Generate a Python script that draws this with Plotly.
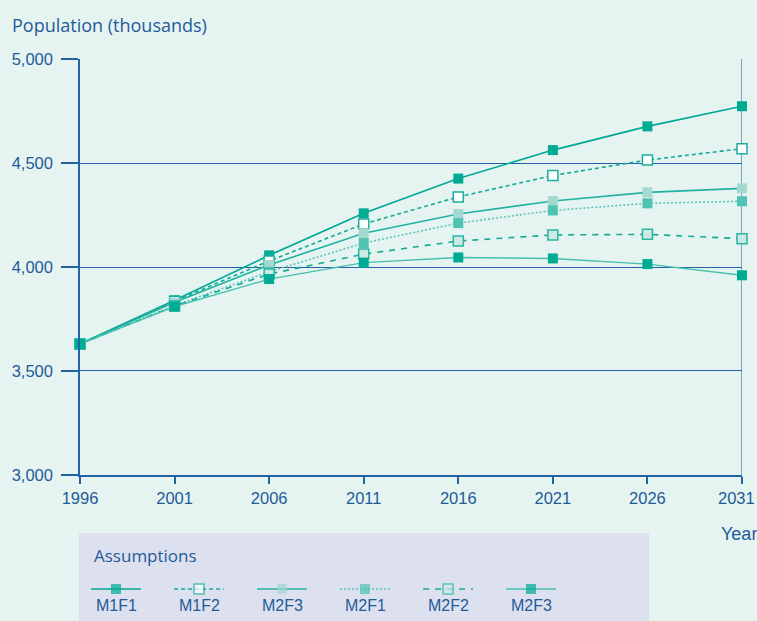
import plotly.graph_objects as go

years = [1996, 2001, 2006, 2011, 2016, 2021, 2026, 2031]
series_names = ["M1F1", "M1F2", "M2F3", "M2F1", "M2F2", "M2F3"]
m1f1 = [3630, 3840, 4056, 4258, 4425, 4562, 4676, 4773]
m1f2 = [3630, 3835, 4029, 4207, 4337, 4440, 4514, 4569]
m2f3_a = [3630, 3830, 4010, 4162, 4255, 4317, 4359, 4378]
m2f1 = [3630, 3815, 3977, 4115, 4211, 4272, 4306, 4316]
m2f2 = [3630, 3812, 3966, 4062, 4125, 4154, 4157, 4136]
m2f3_b = [3630, 3810, 3942, 4021, 4046, 4041, 4014, 3960]
y_ticks = [3000, 3500, 4000, 4500, 5000]
y_labels = ["3,000", "3,500", "4,000", "4,500", "5,000"]
x_labels = [str(y) for y in years]

values = [m1f1, m1f2, m2f3_a, m2f1, m2f2, m2f3_b]
styles = [
    dict(lc="#00a894", dash="solid", mf="#00ab94", ml="#00ab94", lw=1.6),
    dict(lc="#14a996", dash="4px,3px", mf="#ffffff", ml="#1aae9c", lw=1.6),
    dict(lc="#22b2a2", dash="solid", mf="#a3d9d1", ml="#a3d9d1", lw=1.6),
    dict(lc="#5cc3b7", dash="2px,2px", mf="#4fc2b2", ml="#4fc2b2", lw=1.6),
    dict(lc="#14a996", dash="6px,6px", mf="#cde9e4", ml="#2ab5a3", lw=1.6),
    dict(lc="#45bfae", dash="solid", mf="#00ab94", ml="#00ab94", lw=1.4),
]

TXT = "#1f5b98"
AX = "#2263a3"
BG = "#e6f4f1"

fig = go.Figure()

for name, vals, st in zip(series_names, values, styles):
    fig.add_trace(go.Scatter(
        x=years, y=vals, name=name, mode="lines+markers",
        line=dict(color=st["lc"], width=st["lw"], dash=st["dash"]),
        marker=dict(symbol="square", size=10, color=st["mf"],
                    line=dict(color=st["ml"], width=1.5 if st["mf"] != st["ml"] else 0)),
        cliponaxis=False, showlegend=False, xaxis="x", yaxis="y",
    ))

# legend samples on a hidden axis
half = 0.30
for i, (name, st) in enumerate(zip(series_names, styles)):
    fig.add_trace(go.Scatter(
        x=[i - half, i, i + half], y=[0, 0, 0], mode="lines+markers",
        line=dict(color=st["lc"], width=st["lw"], dash=st["dash"]),
        marker=dict(symbol="square", size=[0, 10, 0], color=st["mf"],
                    line=dict(color=st["ml"], width=1.5 if st["mf"] != st["ml"] else 0)),
        cliponaxis=False, showlegend=False, xaxis="x2", yaxis="y2", hoverinfo="skip",
    ))
    fig.add_annotation(x=i, y=-1, xref="x2", yref="y2", text=name, showarrow=False,
                       font=dict(size=16, color=TXT, family="Liberation Sans"),
                       xanchor="center", yanchor="middle")

fig.update_layout(
    width=757, height=621,
    margin=dict(l=80, r=15, t=59, b=0, autoexpand=False),
    paper_bgcolor=BG, plot_bgcolor=BG,
    font=dict(family="Liberation Sans", color=TXT, size=16),
    xaxis=dict(range=[1996, 2031], tickvals=years, ticktext=x_labels[:-1] + [""],
               showgrid=False, zeroline=False, showline=True, linecolor=AX, linewidth=1.5,
               ticks="outside", ticklen=7, tickcolor=AX, tickwidth=1.5,
               ticklabeloverflow="allow", automargin=False,
               tickfont=dict(size=16.5, color=TXT, family="Liberation Sans"), anchor="y"),
    yaxis=dict(domain=[0.2598, 1], range=[3000, 5000], tickvals=y_ticks, ticktext=y_labels,
               showgrid=True, gridcolor=AX, gridwidth=1.2, zeroline=False,
               showline=True, linecolor=AX, linewidth=1.5, mirror=False,
               ticks="outside", ticklen=17, tickcolor=AX, tickwidth=1.5,
               ticklabelstandoff=5,
               ticklabeloverflow="allow", automargin=False,
               tickfont=dict(size=16.5, color=TXT, family="Liberation Sans"), anchor="x"),
    xaxis2=dict(range=[-0.434, 7.542], visible=False, anchor="y2", fixedrange=True, automargin=False),
    yaxis2=dict(domain=[0, 0.1566], range=[-2.0, 3.5], visible=False, anchor="x2", fixedrange=True, automargin=False),
    showlegend=False,
)

# last x tick label, nudged inside the page like the reference
fig.add_annotation(x=years[-1], xref="x", y=(621 - 498) / 562, yref="paper", text=x_labels[-1],
                   showarrow=False, xanchor="center", yanchor="middle", xshift=-6,
                   font=dict(size=16.5, color=TXT, family="Liberation Sans"))

# right border at 2031
fig.add_shape(type="line", xref="x", yref="y", x0=2031, x1=2031, y0=3000, y1=5000,
              line=dict(color="#5a86bb", width=1.5), layer="below")

# legend box
fig.add_shape(type="rect", xref="paper", yref="paper", x0=-0.0015, x1=(649 - 80) / 662,
              y0=0, y1=0.1566, fillcolor="#dde0ee", line=dict(width=0), layer="below")

fig.add_annotation(xref="paper", yref="paper", x=(92 - 80) / 662, y=(621 - 555) / 562,
                   text="Assumptions", showarrow=False, xanchor="left", yanchor="middle",
                   font=dict(size=17, color=TXT, family="Open Sans"))

fig.add_annotation(xref="paper", yref="paper", x=(10 - 80) / 662, y=(621 - 25) / 562,
                   text="Population (thousands)", showarrow=False, xanchor="left", yanchor="middle",
                   font=dict(size=18, color=TXT, family="Open Sans"))

fig.add_annotation(xref="paper", yref="paper", x=(759 - 80) / 662, y=(621 - 534) / 562,
                   text="Year", showarrow=False, xanchor="right", yanchor="middle",
                   font=dict(size=18, color=TXT, family="Liberation Sans"))

fig.write_html("out.html", config={"displayModeBar": False},
               post_script="document.body.style.margin='0px';")
